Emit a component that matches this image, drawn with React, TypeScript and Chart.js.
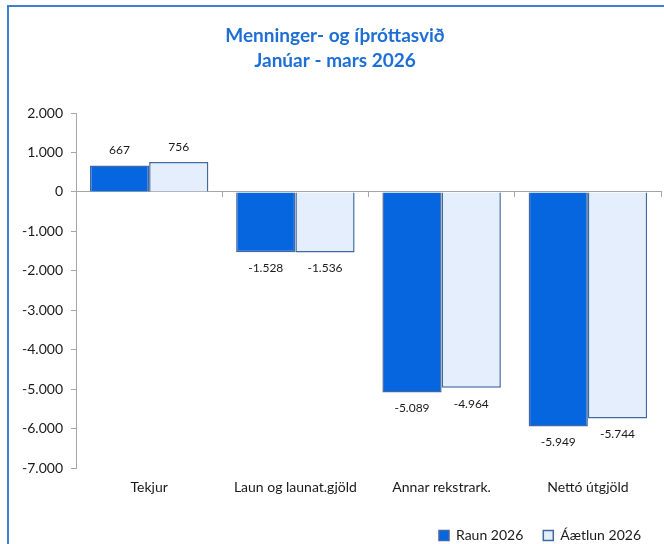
import React, { useEffect, useRef } from "react";
import { Chart, registerables } from "chart.js";

Chart.register(...registerables);

const titleLines = ["Menninger- og íþróttasvið", "Janúar - mars 2026"];
const categories = ["Tekjur", "Laun og launat.gjöld", "Annar rekstrark.", "Nettó útgjöld"];
const seriesNames = ["Raun 2026", "Áætlun 2026"];
const raun2026 = [667, -1528, -5089, -5949];
const aetlun2026 = [756, -1536, -4964, -5744];
const yMin = -7000;
const yMax = 2000;
const yStep = 1000;

const FONT = "Lato, 'Open Sans', sans-serif";

function fmt(v: number): string {
  const s = Math.abs(Math.round(v)).toString().replace(/\B(?=(\d{3})+(?!\d))/g, ".");
  return (v < 0 ? "-" : "") + s;
}

const dataLabelPlugin = {
  id: "dataLabels",
  afterDatasetsDraw(chart: any) {
    const ctx = chart.ctx;
    ctx.save();
    ctx.font = `12px ${FONT}`;
    ctx.fillStyle = "#1a1a1a";
    ctx.textAlign = "center";
    ctx.textBaseline = "middle";
    chart.data.datasets.forEach((ds: any, di: number) => {
      const meta = chart.getDatasetMeta(di);
      meta.data.forEach((el: any, i: number) => {
        const v = ds.data[i];
        const y = v >= 0 ? el.y - 15 : el.y + 16;
        ctx.fillText(fmt(v), el.x, y);
      });
    });
    ctx.restore();
  },
};

export default function App() {
  const ref = useRef<HTMLCanvasElement | null>(null);
  useEffect(() => {
    if (!ref.current) return;
    const chart = new Chart(ref.current, {
      type: "bar",
      data: {
        labels: categories,
        datasets: [
          {
            label: seriesNames[0],
            data: raun2026,
            backgroundColor: "#0666e0",
            borderColor: "#41689f",
            borderWidth: 1.5,
            categoryPercentage: 0.81,
            barPercentage: 1.0,
          },
          {
            label: seriesNames[1],
            data: aetlun2026,
            backgroundColor: "#e4eefc",
            borderColor: "#41689f",
            borderWidth: 1.5,
            categoryPercentage: 0.81,
            barPercentage: 1.0,
          },
        ],
      },
      options: {
        animation: false,
        responsive: false,
        maintainAspectRatio: false,
        layout: { padding: { left: 0, right: 12, top: 0, bottom: -8.5 } },
        plugins: {
          tooltip: { enabled: false },
          title: {
            display: true,
            text: titleLines,
            color: "#1d6fd6",
            font: { family: FONT, size: 19, weight: "bold", lineHeight: 1.3 },
            padding: { top: 17, bottom: 39.6 },
          },
          legend: {
            position: "bottom",
            align: "end",
            labels: {
              boxWidth: 10,
              boxHeight: 10,
              padding: 20,
              color: "#1a1a1a",
              font: { family: FONT, size: 14 },
            },
          },
        },
        scales: {
          x: {
            type: "category",
            position: "bottom",
            grid: { display: false, drawTicks: false },
            border: { display: false },
            ticks: { color: "#1a1a1a", padding: 11, font: { family: FONT, size: 14 }, maxRotation: 0 },
            afterFit: (s: any) => { s.height = 40.5; },
          },
          x2: {
            type: "category",
            labels: categories,
            position: { y: 0 } as any,
            offset: true,
            grid: { offset: true, drawOnChartArea: false, drawTicks: true, tickLength: 5, color: "#a6a6a6" },
            border: { display: true, color: "#a6a6a6", width: 1 },
            ticks: { display: false },
          },
          y: {
            min: yMin,
            max: yMax,
            ticks: {
              stepSize: yStep,
              padding: 8,
              color: "#1a1a1a",
              font: { family: FONT, size: 14 },
              callback: (v: any) => fmt(Number(v)),
            },
            grid: { drawOnChartArea: false, drawTicks: true, tickLength: 5, color: "#a6a6a6" },
            border: { display: true, color: "#a6a6a6", width: 1 },
            afterFit: (s: any) => { s.width = 67; },
          },
        },
      },
      plugins: [dataLabelPlugin],
    } as any);
    return () => chart.destroy();
  }, []);

  return (
    <div style={{ position: "fixed", left: 0, top: 0, width: 664, height: 544, overflow: "hidden", background: "#fff" }}>
      <div style={{ position: "absolute", left: 7, top: 5, width: 720, height: 620, border: "2px solid #3f7fd1", boxSizing: "border-box" }} />
      <div style={{ position: "absolute", left: 9, top: 7, width: 664, height: 537 }}>
        <canvas ref={ref} width={664} height={537} style={{ display: "block", width: 664, height: 537 }} />
      </div>
    </div>
  );
}
